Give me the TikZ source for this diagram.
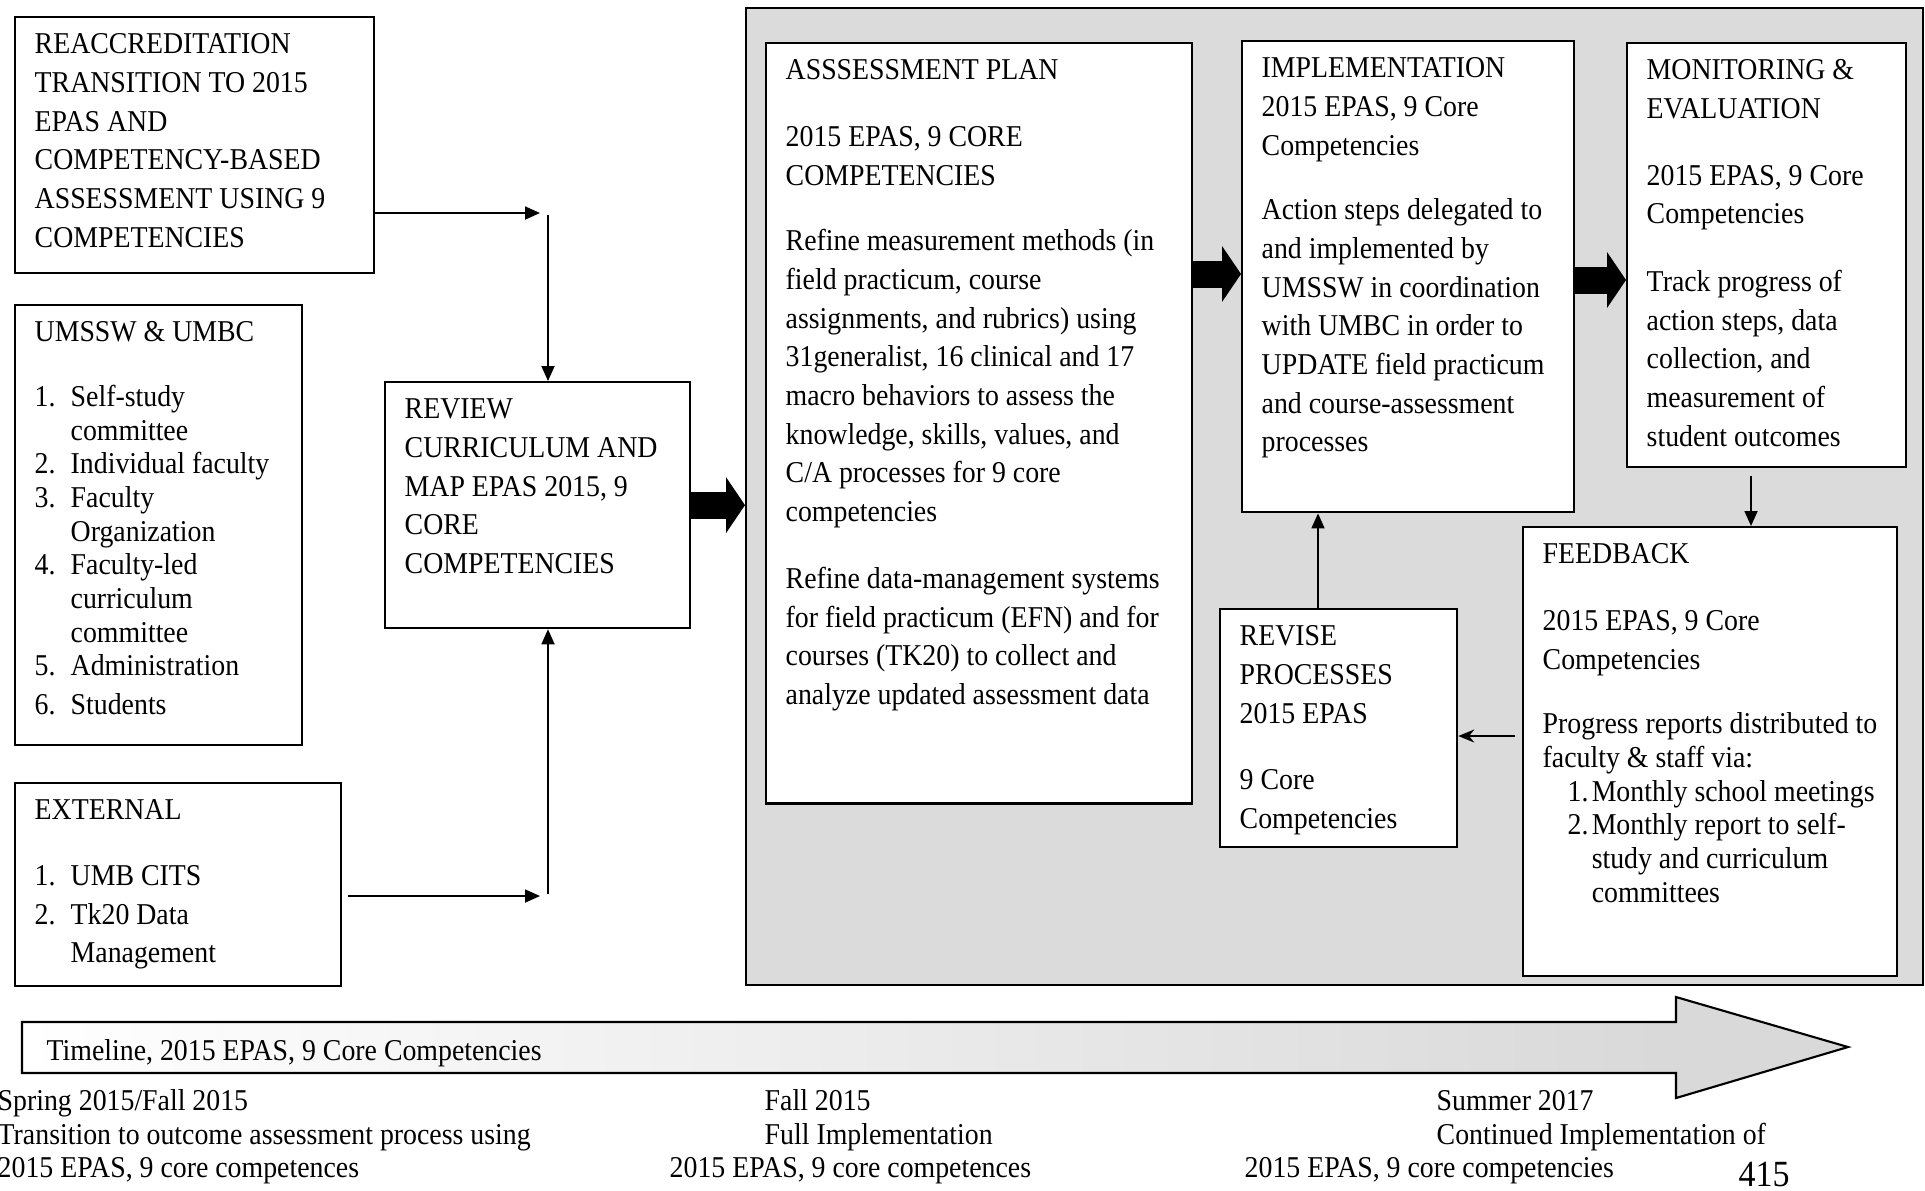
\documentclass[tikz,border=0pt]{standalone}
\usepackage{fontspec}
\setmainfont{Liberation Serif}[FakeStretch=0.92]
\usetikzlibrary{arrows.meta}

\definecolor{regiongray}{gray}{0.86}
\definecolor{timegray}{gray}{0.85}

\tikzset{
  box/.style={draw, line width=0.6pt, fill=white, anchor=north west, inner sep=0pt},
  txt/.style={anchor=north west, inner sep=0pt, align=left},
  lbl/.style={anchor=base west, inner sep=0pt},
  arr/.style={line width=0.5pt, -{Triangle[length=0.15cm, width=0.13cm]}},
  arrback/.style={line width=0.5pt, -{Stealth[length=0.16cm, width=0.13cm]}},
  bigarrow/.style={line width=0.27cm, -{Triangle[length=0.19cm, width=0.56cm, line width=0pt]}},
}
\newcommand{\itemno}[1]{\makebox[0.36cm][l]{#1}}
\newcommand{\fbno}[1]{\hspace*{0.25cm}\makebox[0.24cm][l]{#1}}

\begin{document}
\begin{tikzpicture}[x=0.01cm, y=-0.01cm, font=\fontsize{8.6}{11}\selectfont]
	\useasboundingbox (0,0) rectangle (1925,1190);

	% inputs on the left
	\node[box, minimum width=3.59cm, minimum height=2.56cm] (reaccred) at (14,16) {};
	\node[txt] (reaccred-t) at ([shift={(20,10)}]reaccred.north west) {\strut REACCREDITATION\\TRANSITION TO 2015\\EPAS AND\\COMPETENCY-BASED\\ASSESSMENT USING 9\\COMPETENCIES};

	\node[box, minimum width=2.87cm, minimum height=4.40cm] (umssw) at (14,304) {};
	\node[txt] (umssw-t) at ([shift={(20,10)}]umssw.north west) {\strut UMSSW \& UMBC\\[0.26cm]
		\itemno{1.}Self-study\\[-0.05cm]
		\itemno{}committee\\[-0.05cm]
		\itemno{2.}Individual faculty\\[-0.05cm]
		\itemno{3.}Faculty\\[-0.05cm]
		\itemno{}Organization\\[-0.05cm]
		\itemno{4.}Faculty-led\\[-0.05cm]
		\itemno{}curriculum\\[-0.05cm]
		\itemno{}committee\\[-0.05cm]
		\itemno{5.}Administration\\
		\itemno{6.}Students};

	\node[box, minimum width=3.26cm, minimum height=2.03cm] (external) at (14,782) {};
	\node[txt] (external-t) at ([shift={(20,10)}]external.north west) {\strut EXTERNAL\\[0.27cm]
		\itemno{1.}UMB CITS\\
		\itemno{2.}Tk20 Data\\
		\itemno{}Management};

	\node[box, minimum width=3.05cm, minimum height=2.46cm] (review) at (384,381) {};
	\node[txt] (review-t) at ([shift={(20,10)}]review.north west) {\strut REVIEW\\CURRICULUM AND\\MAP EPAS 2015, 9\\CORE\\COMPETENCIES};

	% grey cycle
	\node[box, fill=regiongray, minimum width=11.76cm, minimum height=9.76cm] (region) at (745,7) {};

	\node[box, minimum width=4.26cm, minimum height=7.60cm] (plan) at (765,42) {};
	\node[txt] (plan-t) at ([shift={(20,10)}]plan.north west) {\strut ASSSESSMENT PLAN\\[0.28cm]
		2015 EPAS, 9 CORE\\
		COMPETENCIES\\[0.27cm]
		Refine measurement methods (in\\
		field practicum, course\\
		assignments, and rubrics) using\\
		31generalist, 16 clinical and 17\\
		macro behaviors to assess the\\
		knowledge, skills, values, and\\
		C/A processes for 9 core\\
		competencies\\[0.28cm]
		Refine data-management systems\\
		for field practicum (EFN) and for\\
		courses (TK20) to collect and\\
		analyze updated assessment data};

	\node[box, minimum width=3.32cm, minimum height=4.71cm] (impl) at (1241,40) {};
	\node[txt] (impl-t) at ([shift={(20,10)}]impl.north west) {\strut IMPLEMENTATION\\
		2015 EPAS, 9 Core\\
		Competencies\\[0.26cm]
		Action steps delegated to\\
		and implemented by\\
		UMSSW in coordination\\
		with UMBC in order to\\
		UPDATE field practicum\\
		and course-assessment\\
		processes};

	\node[box, minimum width=2.79cm, minimum height=4.24cm] (monitor) at (1626,42) {};
	\node[txt] (monitor-t) at ([shift={(20,10)}]monitor.north west) {\strut MONITORING \&\\
		EVALUATION\\[0.28cm]
		2015 EPAS, 9 Core\\
		Competencies\\[0.29cm]
		Track progress of\\
		action steps, data\\
		collection, and\\
		measurement of\\
		student outcomes};

	\node[box, minimum width=3.74cm, minimum height=4.49cm] (feedback) at (1522,526) {};
	\node[txt] (feedback-t) at ([shift={(20,10)}]feedback.north west) {\strut FEEDBACK\\[0.28cm]
		2015 EPAS, 9 Core\\
		Competencies\\[0.26cm]
		Progress reports distributed to\\[-0.05cm]
		faculty \& staff via:\\[-0.05cm]
		\fbno{1.}Monthly school meetings\\[-0.05cm]
		\fbno{2.}Monthly report to self-\\[-0.05cm]
		\fbno{}study and curriculum\\[-0.05cm]
		\fbno{}committees};

	\node[box, minimum width=2.37cm, minimum height=2.38cm] (revise) at (1219,608) {};
	\node[txt] (revise-t) at ([shift={(20,10)}]revise.north west) {\strut REVISE\\
		PROCESSES\\
		2015 EPAS\\[0.28cm]
		9 Core\\
		Competencies};

	% connectors
	\coordinate (jtop) at (540,213);
	\coordinate (jtopv) at (548,215);
	\coordinate (jbots) at (348,896);
	\coordinate (jbot) at (540,896);
	\coordinate (jbotv) at (548,894);
	\coordinate (pa) at (0,274);
	\coordinate (ma) at (0,280);
	\coordinate (mf) at (1751,476);
	\coordinate (ri) at (1318,0);
	\coordinate (fr) at (1515,736);

	\draw[arr] (reaccred.east |- jtop) -- (jtop);
	\draw[arr] (jtopv) -- (jtopv |- review.north);
	\draw[arr] (jbots) -- (jbot);
	\draw[arr] (jbotv) -- (jbotv |- review.south);
	\draw[bigarrow] (review.east) -- (review.east -| region.west);
	\draw[bigarrow] (plan.east |- pa) -- (impl.west |- pa);
	\draw[bigarrow] (impl.east |- ma) -- (monitor.west |- ma);
	\draw[arr] (mf) -- (mf |- feedback.north);
	\draw[arr] (revise.north -| ri) -- (impl.south -| ri);
	\draw[arrback] (fr) -- (fr -| revise.east);

	% timeline
	\shade[left color=white, right color=timegray] (22,1022) rectangle (1676,1073);
	\fill[timegray] (1676,997) -- (1848,1047) -- (1676,1098) -- cycle;
	\draw[line width=0.6pt] (22,1022) -- (1676,1022) -- (1676,997) -- (1848,1047) -- (1676,1098) -- (1676,1073) -- (22,1073) -- cycle;
	\node[lbl] (timeline) at (46,1060) {Timeline, 2015 EPAS, 9 Core Competencies};

	\node[lbl] (spring-a) at (-3,1110) {Spring 2015/Fall 2015};
	\node[lbl] (spring-b) at (-3,1144) {Transition to outcome assessment process using};
	\node[lbl] (spring-c) at (-3,1177) {2015 EPAS, 9 core competences};
	\node[lbl] (fall-a) at (764,1110) {Fall 2015};
	\node[lbl] (fall-b) at (764,1144) {Full Implementation};
	\node[lbl] (fall-c) at (669,1177) {2015 EPAS, 9 core competences};
	\node[lbl] (summer-a) at (1436,1110) {Summer 2017};
	\node[lbl] (summer-b) at (1436,1144) {Continued Implementation of};
	\node[lbl] (summer-c) at (1244,1177) {2015 EPAS, 9 core competencies};
	\node[lbl, font=\fontsize{10.5}{12}\selectfont] (pageno) at (1738,1186) {415};
\end{tikzpicture}
\end{document}
